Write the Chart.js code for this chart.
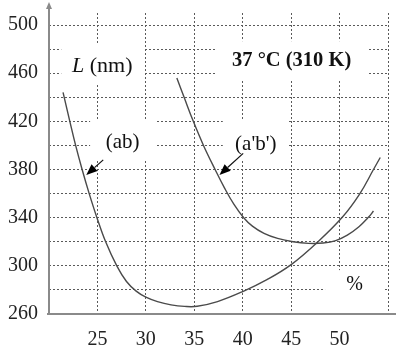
<!DOCTYPE html>
<html>
<head>
<meta charset="utf-8">
<script src="https://cdn.jsdelivr.net/npm/chart.js@4/dist/chart.umd.min.js"></script>
<style>
  html, body { margin: 0; padding: 0; background: #fff; }
  canvas { display: block; }
</style>
</head>
<body>
<canvas id="c" width="396" height="347"></canvas>
<script>
// ---- data ----
const abX = [21.45, 22.15, 22.75, 23.42, 24.15, 24.95, 25.85, 27.0, 28.0, 29.0, 30.0, 31.2, 32.6, 34.0, 35.3, 37.4, 40, 42.5, 45, 47.7, 50.3, 52.1, 53.5, 54.2];
const abY = [444, 420, 400, 380, 360, 340, 320, 300, 287, 279, 274, 270.3, 267.6, 266.3, 266.4, 270.3, 278.6, 288.5, 301, 319.5, 340.5, 360, 380, 390];
const apbpX = [33.2, 33.95, 34.9, 35.95, 37.15, 38.1, 39.1, 40.1, 41.0, 42.2, 43.6, 45.2, 46.8, 48.3, 49.6, 50.8, 52.0, 53.0, 53.5];
const apbpY = [456, 440, 420, 400, 380, 365, 351, 340, 333, 327, 322.8, 320, 318.7, 319, 321, 325.5, 332.5, 340.5, 345.5];
const xTickValues = [20, 25, 30, 35, 40, 45, 50, 55];
const xTickLabels = ['', '25', '30', '35', '40', '45', '50', ''];
const yTickValues = [260, 280, 300, 320, 340, 360, 380, 400, 420, 440, 460, 480, 500];
const yTickLabels = ['260', '', '300', '', '340', '', '380', '', '420', '', '460', '', '500'];
const seriesNames = ['(ab)', "(a'b')"];
const titleText = '37 °C (310 K)';
const yUnitItalic = 'L';
const yUnitRest = ' (nm)';
const xUnit = '%';

// annotation anchors (data coordinates)
const labelAnchors = {
  unit: { x: 25.5, y: 466 },
  title: { x: 45.05, y: 470 },
  ab: { x: 27.6, y: 402.4 },
  apbp: { x: 41.35, y: 401.2 },
  pct: { x: 51.55, y: 284 }
};
const arrowAb = { from: { x: 25.6, y: 388 }, to: { x: 23.85, y: 375.5 } };
const arrowApbp = { from: { x: 40.05, y: 393.4 }, to: { x: 37.6, y: 375.5 } };

const SERIF = '"Liberation Serif", "Times New Roman", serif';
const lineColor = '#4a4a4a';

const toPts = (xs, ys) => xs.map((x, i) => ({ x: x, y: ys[i] }));

const annot = {
  id: 'annot',
  beforeDatasetsDraw(chart) {
    const { ctx, scales: { x, y } } = chart;
    ctx.save();
    ctx.fillStyle = '#fff';
    const box = (a, w, h, px, pyT, pyB) => {
      const cx = x.getPixelForValue(a.x), cy = y.getPixelForValue(a.y);
      ctx.fillRect(cx - w / 2 - px, cy - h / 2 - pyT, w + 2 * px, h + pyT + pyB);
    };
    box(labelAnchors.unit, 60, 22, 11, 12, 8);
    box(labelAnchors.title, 126, 18, 13, 11, 9);
    box(labelAnchors.ab, 35, 19, 15, 14, 8);
    box(labelAnchors.apbp, 44, 19, 11, 14, 6);
    box(labelAnchors.pct, 17, 16, 21, 7, 19);
    ctx.restore();
  },
  afterDatasetsDraw(chart) {
    const { ctx, scales: { x, y }, chartArea } = chart;
    ctx.save();
    // axes
    ctx.strokeStyle = '#8a8a8a';
    ctx.lineWidth = 2;
    ctx.beginPath();
    ctx.moveTo(chartArea.left, chartArea.bottom + 1);
    ctx.lineTo(chartArea.left, 6);
    ctx.moveTo(chartArea.left - 2, chartArea.bottom);
    ctx.lineTo(396, chartArea.bottom);
    ctx.stroke();
    // small arrow tip on y axis
    ctx.fillStyle = '#8a8a8a';
    ctx.beginPath();
    ctx.moveTo(chartArea.left, 2);
    ctx.lineTo(chartArea.left - 3, 9);
    ctx.lineTo(chartArea.left + 3, 9);
    ctx.closePath();
    ctx.fill();

    // texts
    ctx.fillStyle = '#111';
    ctx.textBaseline = 'middle';
    ctx.textAlign = 'left';
    const ux = x.getPixelForValue(labelAnchors.unit.x), uy = y.getPixelForValue(labelAnchors.unit.y);
    ctx.font = 'italic 22px ' + SERIF;
    const wL = ctx.measureText(yUnitItalic).width;
    ctx.font = '22px ' + SERIF;
    const wR = ctx.measureText(yUnitRest).width;
    const startX = ux - (wL + wR) / 2;
    ctx.font = 'italic 22px ' + SERIF;
    ctx.fillText(yUnitItalic, startX, uy);
    ctx.font = '22px ' + SERIF;
    ctx.fillText(yUnitRest, startX + wL, uy);

    ctx.textAlign = 'center';
    ctx.font = 'bold 20.5px ' + SERIF;
    ctx.fillText(titleText, x.getPixelForValue(labelAnchors.title.x), y.getPixelForValue(labelAnchors.title.y));
    ctx.font = '21px ' + SERIF;
    ctx.fillText(seriesNames[0], x.getPixelForValue(labelAnchors.ab.x), y.getPixelForValue(labelAnchors.ab.y));
    ctx.fillText(seriesNames[1], x.getPixelForValue(labelAnchors.apbp.x), y.getPixelForValue(labelAnchors.apbp.y));
    ctx.font = '20px ' + SERIF;
    ctx.fillText(xUnit, x.getPixelForValue(labelAnchors.pct.x), y.getPixelForValue(labelAnchors.pct.y));

    // arrows
    const arrow = (a) => {
      const x1 = x.getPixelForValue(a.from.x), y1 = y.getPixelForValue(a.from.y);
      const x2 = x.getPixelForValue(a.to.x), y2 = y.getPixelForValue(a.to.y);
      const ang = Math.atan2(y2 - y1, x2 - x1);
      const L = 11, W = 4.5;
      const bx = x2 - L * Math.cos(ang), by = y2 - L * Math.sin(ang);
      ctx.strokeStyle = '#111';
      ctx.lineWidth = 1.2;
      ctx.beginPath();
      ctx.moveTo(x1, y1);
      ctx.lineTo(bx, by);
      ctx.stroke();
      ctx.fillStyle = '#000';
      ctx.beginPath();
      ctx.moveTo(x2, y2);
      ctx.lineTo(bx + W * Math.sin(ang), by - W * Math.cos(ang));
      ctx.lineTo(bx - W * Math.sin(ang), by + W * Math.cos(ang));
      ctx.closePath();
      ctx.fill();
    };
    arrow(arrowAb);
    arrow(arrowApbp);
    ctx.restore();
  }
};

new Chart(document.getElementById('c'), {
  type: 'scatter',
  data: {
    datasets: [
      { label: seriesNames[0], data: toPts(abX, abY), showLine: true, pointRadius: 0,
        borderColor: lineColor, borderWidth: 1.4, tension: 0.4, fill: false },
      { label: seriesNames[1], data: toPts(apbpX, apbpY), showLine: true, pointRadius: 0,
        borderColor: lineColor, borderWidth: 1.4, tension: 0.4, fill: false }
    ]
  },
  options: {
    responsive: false,
    animation: false,
    devicePixelRatio: 1,
    layout: { padding: { top: 13, right: 8, left: 0, bottom: 0 } },
    plugins: { legend: { display: false }, tooltip: { enabled: false } },
    scales: {
      x: {
        type: 'linear', min: 20, max: 55,
        afterBuildTicks: (s) => { s.ticks = xTickValues.map(v => ({ value: v })); },
        afterFit: (s) => { s.height = 33; s.paddingLeft = 0; s.paddingRight = 0; },
        ticks: {
          autoSkip: false, maxRotation: 0,
          callback: (v) => { const i = xTickValues.indexOf(v); return i >= 0 ? xTickLabels[i] : ''; },
          font: { family: SERIF, size: 20 }, color: '#222', padding: 14
        },
        grid: { color: '#5a5a5a', lineWidth: 1, drawTicks: false },
        border: { display: false, dash: [2, 2] }
      },
      y: {
        type: 'linear', min: 260, max: 510,
        afterBuildTicks: (s) => { s.ticks = yTickValues.map(v => ({ value: v })); },
        afterFit: (s) => { s.width = 49; s.paddingTop = 0; s.paddingBottom = 0; },
        ticks: {
          autoSkip: false,
          callback: (v) => { const i = yTickValues.indexOf(v); return i >= 0 ? yTickLabels[i] : ''; },
          font: { family: SERIF, size: 20 }, color: '#222', padding: 11
        },
        grid: { color: '#5a5a5a', lineWidth: 1, drawTicks: false },
        border: { display: false, dash: [2, 2] }
      }
    }
  },
  plugins: [annot]
});
</script>
</body>
</html>
